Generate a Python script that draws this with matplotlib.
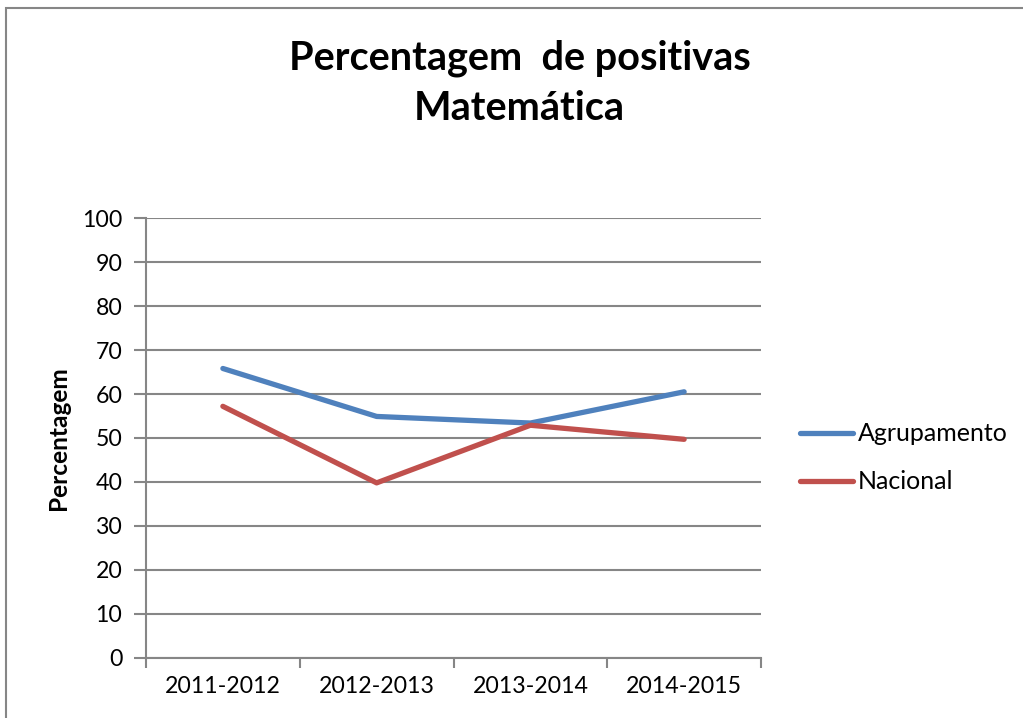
import matplotlib.pyplot as plt
from matplotlib.patches import Rectangle

plt.rcParams['font.family'] = ['Lato', 'DejaVu Sans']

# school years on the x axis
anos = ["2011-2012", "2012-2013", "2013-2014", "2014-2015"]
# percentage of positive grades in mathematics
agrupamento = [65.8, 54.9, 53.4, 60.5]
nacional = [57.2, 39.8, 52.9, 49.7]
y_ticks = [0, 10, 20, 30, 40, 50, 60, 70, 80, 90, 100]

grey = "#868686"

fig = plt.figure(figsize=(10.23, 7.18), dpi=100)
# outer chart border, runs off the right and bottom edge
fig.patches.append(Rectangle((6 / 1023, -0.1), 1.2, 1 - 8 / 718 + 0.1,
                             transform=fig.transFigure, fill=False,
                             edgecolor=grey, linewidth=1.5))

ax = fig.add_axes([146 / 1023, 60 / 718, 615 / 1023, 440 / 718])

x = list(range(len(anos)))
ax.plot(x, agrupamento, color="#4F81BD", linewidth=3.8, label="Agrupamento",
        solid_capstyle="round", solid_joinstyle="round")
ax.plot(x, nacional, color="#C0504D", linewidth=3.8, label="Nacional",
        solid_capstyle="round", solid_joinstyle="round")

ax.set_xlim(-0.5, 3.5)
ax.set_ylim(0, 100)
ax.set_yticks(y_ticks)
ax.set_xticks(x)
ax.set_xticklabels(anos)
ax.set_xticks([-0.5, 0.5, 1.5, 2.5, 3.5], minor=True)
ax.tick_params(axis="x", which="major", length=0, pad=13, labelsize=16.7)
ax.tick_params(axis="x", which="minor", length=7, width=1.5, color=grey)
ax.tick_params(axis="y", length=9, width=1.5, color=grey, pad=8, labelsize=16.7)

ax.grid(axis="y", color=grey, linewidth=1.5)
ax.set_axisbelow(True)
for side in ["top", "right"]:
    ax.spines[side].set_visible(False)
for side in ["left", "bottom"]:
    ax.spines[side].set_color(grey)
    ax.spines[side].set_linewidth(1.5)

ax.set_ylabel("Percentagem", fontsize=17.6, fontweight="bold", labelpad=9)

fig.text(0.508, 1 - 58 / 718, "Percentagem  de positivas", ha="center", va="center",
         fontsize=28.5, fontweight="bold")
fig.text(0.508, 1 - 109 / 718, "Matemática", ha="center", va="center",
         fontsize=28.5, fontweight="bold")

ax.legend(loc="center left", bbox_to_anchor=(1.063, 0.455), frameon=False,
          fontsize=18, handlelength=2.15, handletextpad=0.16, labelspacing=1.0,
          borderpad=0, borderaxespad=0)

fig.savefig("out.png", dpi=100)
